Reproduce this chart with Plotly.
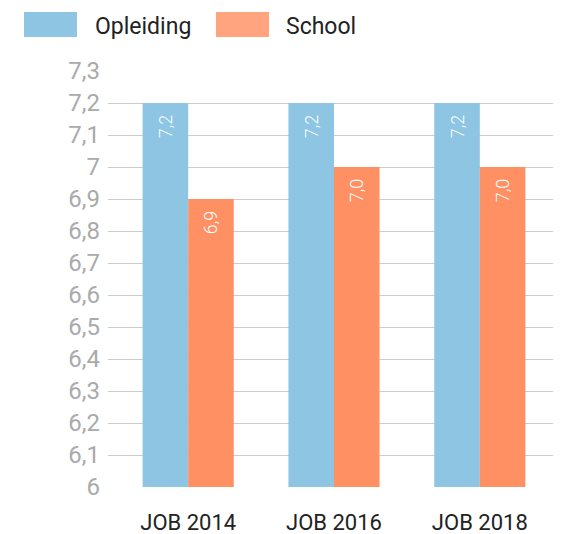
import plotly.graph_objects as go

categories = ["JOB 2014", "JOB 2016", "JOB 2018"]
opleiding = [7.2, 7.2, 7.2]
school = [6.9, 7.0, 7.0]
y_ticks = [6.0, 6.1, 6.2, 6.3, 6.4, 6.5, 6.6, 6.7, 6.8, 6.9, 7.0, 7.1, 7.2, 7.3]
series_names = ["Opleiding", "School"]

BLUE = "#8DC5E3"
ORANGE = "#FF9064"
ORANGE_LEGEND = "#FFA47E"
FONT = "Roboto"

# the page body has an 8px margin; figure is sized so it fits the window
W, H = 553, 526
L, R, T, B = 100, 552, 63, 479

fig = go.Figure()
for name, vals, col in [(series_names[0], opleiding, BLUE), (series_names[1], school, ORANGE)]:
    fig.add_trace(go.Bar(
        name=name, x=categories, y=vals, marker=dict(color=col, line=dict(width=0)),
        texttemplate="%{y:.1f}\u00a0\u00a0", textposition="inside", insidetextanchor="end",
        textangle=-90, textfont=dict(color="white", size=18, family=FONT, weight=300),
        showlegend=False, cliponaxis=False,
    ))

def px(x):
    return (x - L) / (R - L)
def py(y):
    return (B - y) / (B - T)

legend_items = [(series_names[0], BLUE, 16, 85), (series_names[1], ORANGE_LEGEND, 208, 276)]
for name, col, sx, tx in legend_items:
    fig.add_shape(type="rect", xref="paper", yref="paper",
                  x0=px(sx), x1=px(sx + 53), y0=py(29), y1=py(4),
                  fillcolor=col, line=dict(width=0), layer="above")
    fig.add_annotation(text=name, xref="paper", yref="paper", x=px(tx), y=py(18),
                       xanchor="left", yanchor="middle", showarrow=False,
                       font=dict(size=23, color="#222", family=FONT))

fig.update_layout(
    width=W, height=H,
    margin=dict(l=L, r=W - R, t=T, b=H - B, autoexpand=False),
    barmode="group", bargap=0.375, bargroupgap=0,
    separators=",.",
    plot_bgcolor="white", paper_bgcolor="white",
    font=dict(family=FONT),
    showlegend=False,
    xaxis=dict(range=[-0.55, 2.55], showgrid=False, showline=False, zeroline=False,
               automargin=False,
               tickfont=dict(size=22, color="#222"), ticklabelstandoff=20),
    yaxis=dict(range=[6, 7.3], tickvals=y_ticks, showgrid=True, gridcolor="#cccccc",
               gridwidth=1, zeroline=False, showline=False, automargin=False,
               tickfont=dict(size=24, color="#aaaaaa"), ticklabelstandoff=7),
)

fig.write_html("out.html")
